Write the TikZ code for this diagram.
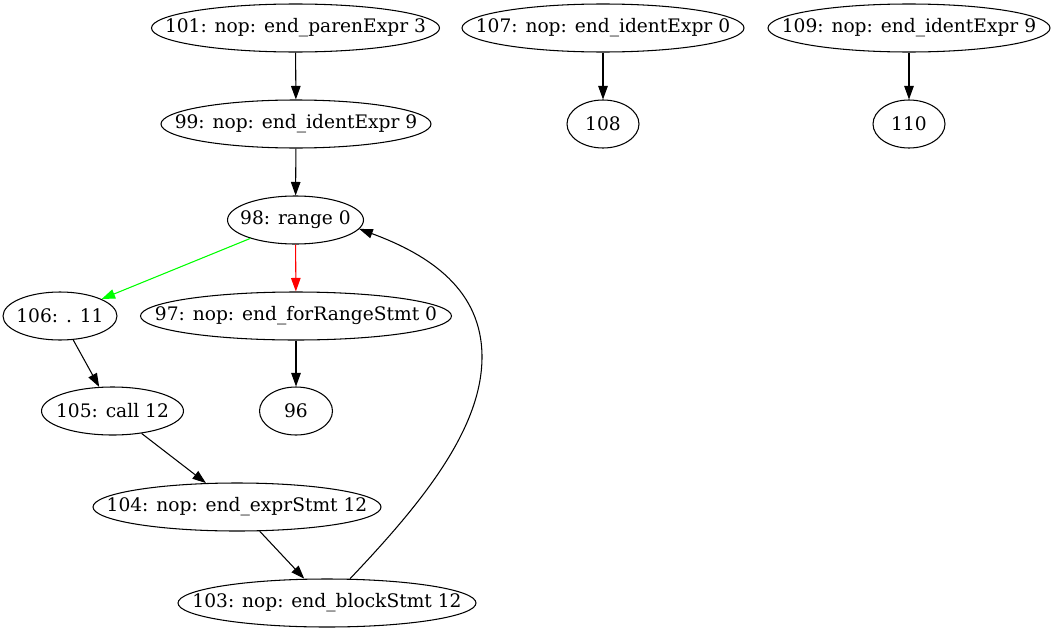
\documentclass[tikz,border=0pt]{standalone}
\usepackage{fontspec}
\setmainfont{DejaVu Serif}
\usetikzlibrary{shapes.geometric,arrows.meta}
\definecolor{vert}{RGB}{0,255,0}
\definecolor{rouge}{RGB}{255,0,0}
\tikzset{
	ovale/.style = {ellipse, draw, line width=0.6pt, inner sep=0pt,
		minimum height=48*0.02cm, font=\fontsize{10.6}{12}\selectfont},
	fleche/.style = {line width=0.6pt,
		-{Triangle[length=0.27cm, width=0.19cm]}}
}
\newcommand{\etat}[4]{\node[ovale, minimum width=#2*0.02cm] (#1) at (#3)
	{\makebox[0pt]{#4}}}
\newcommand{\lien}[3]{\draw[fleche, #1] (#2) -- (#3)}

\begin{document}
\begin{tikzpicture}[x=0.02cm, y=-0.02cm]
	\useasboundingbox (0,0) rectangle (1061,639);
%Left column
	\etat{n101}{288}{295.5,28}{101: nop: end\_parenExpr 3};
	\etat{n99}{270}{296,124}{99: nop: end\_identExpr 9};
	\etat{n98}{136}{295.5,220}{98: range 0};
	\etat{n106}{114}{60,316}{106: . 11};
	\etat{n97}{311}{296,316}{97: nop: end\_forRangeStmt 0};
	\etat{n105}{142}{112.5,411}{105: call 12};
	\etat{n96}{73}{296,411}{96};
	\etat{n104}{288}{237,507}{104: nop: end\_exprStmt 12};
	\etat{n103}{298}{327,603}{103: nop: end\_blockStmt 12};
%The two small chains
	\etat{n107}{282}{603,28}{107: nop: end\_identExpr 0};
	\etat{n108}{72}{603,124}{108};
	\etat{n109}{282}{909,28}{109: nop: end\_identExpr 9};
	\etat{n110}{72}{909,124}{110};
%Edges
	\lien{}{n101}{n99};
	\lien{}{n99}{n98};
	\lien{draw=vert, fill=vert}{n98}{n106};
	\lien{draw=rouge, fill=rouge}{n98}{n97};
	\lien{}{n97}{n96};
	\lien{}{n106}{n105};
	\lien{}{n105}{n104};
	\lien{}{n104}{n103};
	\lien{}{n107}{n108};
	\lien{}{n109}{n110};
%Back edge
	\draw[fleche] (n103) .. controls (420,505) and (482,430) .. (482,357)
		.. controls (482,290) and (430,255) .. (n98.-8);
\end{tikzpicture}
\end{document}
